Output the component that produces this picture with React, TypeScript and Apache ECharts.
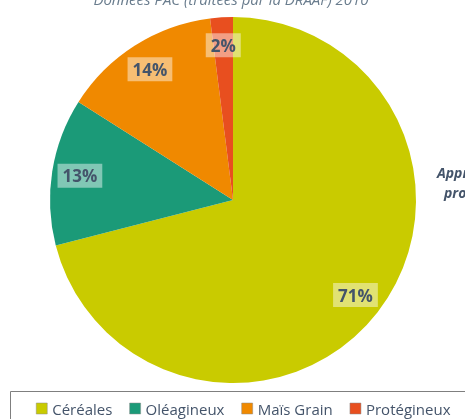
import React, { useEffect, useRef } from "react";
import * as echarts from "echarts";

const categories = ["Céréales", "Oléagineux", "Maïs Grain", "Protégineux"];
const values = [71, 13, 14, 2];
const colors = ["#C9CB00", "#1B9A78", "#F08900", "#E84F1F"];
const titleText = "Données PAC (traitées par la DRAAF) 2010";
const sideLines = ["Approche", "production"];

export default function App() {
  const ref = useRef<HTMLDivElement>(null);
  useEffect(() => {
    if (!ref.current) return;
    const chart = echarts.init(ref.current, undefined, { renderer: "svg" });
    const data = categories.map((name, i) => ({
      name,
      value: values[i],
      itemStyle: { color: colors[i] },
    }));
    const total = values.reduce((a, b) => a + b, 0);
    const textColor = "#44546A";
    chart.setOption({
      animation: false,
      textStyle: { fontFamily: "Open Sans" },
      legend: {
        data: categories,
        left: 31,
        top: 396,
        icon: "rect",
        itemWidth: 11,
        itemHeight: 11,
        itemGap: 17,
        textStyle: { color: textColor, fontSize: 15, fontFamily: "Open Sans" },
        itemStyle: { borderColor: "#8a8a8a", borderWidth: 0.5 },
      },
      graphic: [
        {
          type: "rect",
          shape: { x: 10.5, y: 391.5, width: 470, height: 40 },
          style: { fill: "none", stroke: "#7F7F7F", lineWidth: 1 },
          silent: true,
        },
        {
          type: "text",
          x: 231,
          y: 6,
          style: {
            text: titleText,
            fill: "#6A7D8E",
            font: "italic 15px 'Open Sans'",
            align: "center",
            verticalAlign: "bottom",
          },
          silent: true,
        },
        {
          type: "text",
          x: 437,
          y: 172,
          style: {
            text: sideLines[0],
            fill: "#44546A",
            font: "italic bold 14px 'Open Sans'",
            align: "left",
            verticalAlign: "middle",
          },
        },
        {
          type: "text",
          x: 444,
          y: 192,
          style: {
            text: sideLines[1],
            fill: "#44546A",
            font: "italic bold 14px 'Open Sans'",
            align: "left",
            verticalAlign: "middle",
          },
        },
      ],
      series: [
        {
          type: "pie",
          center: [233, 200],
          radius: [0, 183],
          startAngle: 90,
          clockwise: true,
          label: { show: false },
          labelLine: { show: false },
          silent: true,
          data,
        },
        {
          type: "pie",
          center: [233, 200],
          radius: [121, 183],
          startAngle: 90,
          clockwise: true,
          silent: true,
          itemStyle: { color: "rgba(0,0,0,0)" },
          labelLine: { show: false },
          label: {
            show: true,
            position: "inside",
            formatter: (p: any) => Math.round((p.value / total) * 100) + "%",
            color: textColor,
            fontSize: 17,
            fontWeight: "bold",
            fontFamily: "Open Sans",
            backgroundColor: "rgba(255,255,255,0.45)",
            padding: [4, 5, 3, 5],
          },
          data: categories.map((name, i) => ({ name, value: values[i], itemStyle: { color: "rgba(0,0,0,0)" } })),
        },
      ],
    });
    return () => chart.dispose();
  }, []);
  return (
    <div
      ref={ref}
      style={{ position: "fixed", left: 0, top: 0, width: 465, height: 419 }}
    />
  );
}
